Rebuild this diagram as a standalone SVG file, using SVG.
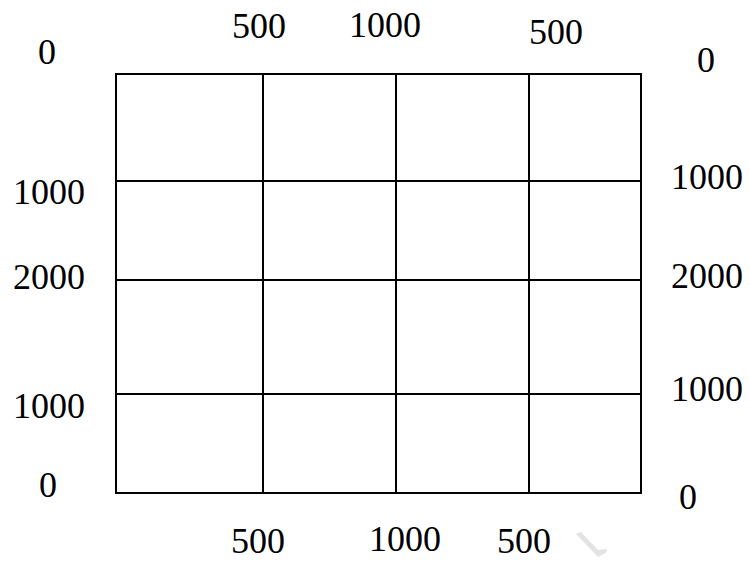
<svg xmlns="http://www.w3.org/2000/svg" width="749" height="561" viewBox="0 0 749 561">
<style>
text{font-family:"Liberation Serif","Times New Roman",serif;font-size:36px;fill:#000}
.g{stroke:#000;stroke-width:2;fill:none}
</style>
<rect width="749" height="561" fill="#fff"/>
<g id="grid">
<rect class="g" x="116" y="74" width="525" height="419"/>
<line class="g" x1="263" y1="74" x2="263" y2="493"/>
<line class="g" x1="396" y1="74" x2="396" y2="493"/>
<line class="g" x1="529" y1="74" x2="529" y2="493"/>
<line class="g" x1="116" y1="181" x2="641" y2="181"/>
<line class="g" x1="116" y1="280" x2="641" y2="280"/>
<line class="g" x1="116" y1="394" x2="641" y2="394"/>
</g>
<g id="top-labels">
<text x="38" y="64">0</text>
<text x="232" y="38">500</text>
<text x="349" y="37">1000</text>
<text x="529" y="44">500</text>
<text x="697" y="72">0</text>
</g>
<g id="left-labels">
<text x="13" y="204">1000</text>
<text x="13" y="289">2000</text>
<text x="13" y="418">1000</text>
<text x="39" y="497">0</text>
</g>
<g id="right-labels">
<text x="671" y="189">1000</text>
<text x="671" y="288">2000</text>
<text x="671" y="401">1000</text>
<text x="679" y="509">0</text>
</g>
<g id="bottom-labels">
<text x="231" y="553">500</text>
<text x="369" y="551">1000</text>
<text x="497" y="553">500</text>
</g>
<path d="M576 534 L581 532 L598 550 L606 549 L607 552 L598 557 Z" fill="#e3e3e3"/>
</svg>
